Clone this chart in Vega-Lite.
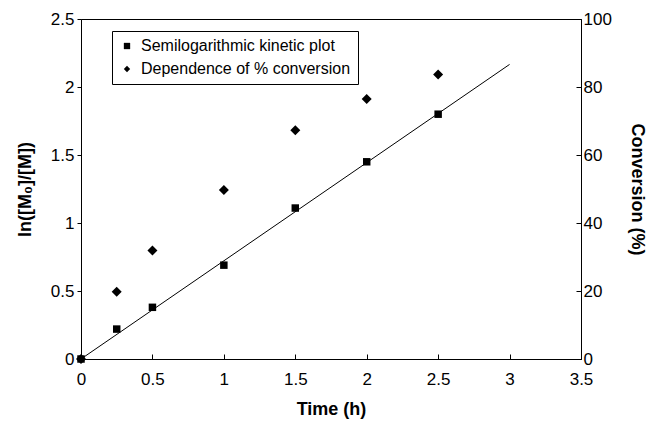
{
  "$schema": "https://vega.github.io/schema/vega-lite/v6.json",
  "width": 500,
  "height": 340,
  "autosize": {"type": "none"},
  "padding": {"left": 81, "top": 19, "right": 71, "bottom": 62},
  "background": "white",
  "config": {
    "font": "Liberation Sans",
    "view": {"stroke": "black", "strokeWidth": 1},
    "point": {"color": "black", "fill": "black", "opacity": 1},
    "line": {"color": "black"},
    "axis": {"grid": false, "domainColor": "black", "tickColor": "black", "labelColor": "black", "titleColor": "black", "labelFont": "Liberation Sans", "titleFont": "Liberation Sans", "labelFontSize": 17, "titleFontSize": 18, "titleFontWeight": "bold", "labelFlush": false, "labelOverlap": false}
  },
  "datasets": {
    "kinetic": [
      {"t": 0, "v": 0, "series": "Semilogarithmic kinetic plot"},
      {"t": 0.25, "v": 0.22, "series": "Semilogarithmic kinetic plot"},
      {"t": 0.5, "v": 0.38, "series": "Semilogarithmic kinetic plot"},
      {"t": 1, "v": 0.69, "series": "Semilogarithmic kinetic plot"},
      {"t": 1.5, "v": 1.11, "series": "Semilogarithmic kinetic plot"},
      {"t": 2, "v": 1.45, "series": "Semilogarithmic kinetic plot"},
      {"t": 2.5, "v": 1.8, "series": "Semilogarithmic kinetic plot"}
    ],
    "conversion": [
      {"t": 0, "c": 0, "series": "Dependence of % conversion"},
      {"t": 0.25, "c": 19.8, "series": "Dependence of % conversion"},
      {"t": 0.5, "c": 31.9, "series": "Dependence of % conversion"},
      {"t": 1, "c": 49.7, "series": "Dependence of % conversion"},
      {"t": 1.5, "c": 67.3, "series": "Dependence of % conversion"},
      {"t": 2, "c": 76.5, "series": "Dependence of % conversion"},
      {"t": 2.5, "c": 83.7, "series": "Dependence of % conversion"}
    ],
    "fit": [
      {"t": 0, "v": 0},
      {"t": 3, "v": 2.166}
    ]
  },
  "layer": [
    {
      "layer": [
        {
          "data": {"name": "fit"},
          "mark": {"type": "line", "color": "black", "strokeWidth": 1},
          "encoding": {
            "x": {"field": "t", "type": "quantitative"},
            "y": {"field": "v", "type": "quantitative"}
          }
        },
        {
          "data": {"name": "kinetic"},
          "mark": {"type": "point", "filled": true, "color": "black", "size": 56, "opacity": 1},
          "encoding": {
            "x": {"field": "t", "type": "quantitative"},
            "y": {"field": "v", "type": "quantitative"},
            "shape": {
              "field": "series",
              "type": "nominal",
              "scale": {"domain": ["Semilogarithmic kinetic plot", "Dependence of % conversion"], "range": ["square", "diamond"]},
              "legend": {"title": null, "orient": "none", "legendX": 31, "legendY": 12, "strokeColor": "black", "fillColor": "white", "padding": 7, "labelFontSize": 16, "labelFont": "Liberation Sans", "labelColor": "black", "labelLimit": 0, "symbolFillColor": "black", "symbolStrokeColor": "black", "symbolSize": 40, "rowPadding": 7, "labelOffset": 6, "symbolOffset": 0}
            }
          }
        }
      ],
      "encoding": {
        "x": {"field": "t", "type": "quantitative", "scale": {"domain": [0, 3.5], "nice": false}, "axis": {"title": "Time (h)", "format": "~g", "values": [0, 0.5, 1, 1.5, 2, 2.5, 3, 3.5], "tickSize": -5, "labelPadding": 17, "titlePadding": 13}},
        "y": {"field": "v", "type": "quantitative", "scale": {"domain": [0, 2.5], "nice": false}, "axis": {"title": "ln([M₀]/[M])", "format": "~g", "orient": "left", "values": [0, 0.5, 1, 1.5, 2, 2.5], "tickSize": 4, "labelPadding": 3, "titlePadding": 16}}
      }
    },
    {
      "data": {"name": "conversion"},
      "mark": {"type": "point", "filled": true, "color": "black", "size": 100, "opacity": 1},
      "encoding": {
        "x": {"field": "t", "type": "quantitative", "scale": {"domain": [0, 3.5], "nice": false}},
        "y": {"field": "c", "type": "quantitative", "scale": {"domain": [0, 100], "nice": false}, "axis": {"title": "Conversion (%)", "format": "d", "orient": "right", "values": [0, 20, 40, 60, 80, 100], "tickSize": -5, "labelPadding": 7, "titlePadding": 16}},
        "shape": {"field": "series", "type": "nominal"}
      }
    }
  ],
  "resolve": {"scale": {"y": "independent"}}
}
